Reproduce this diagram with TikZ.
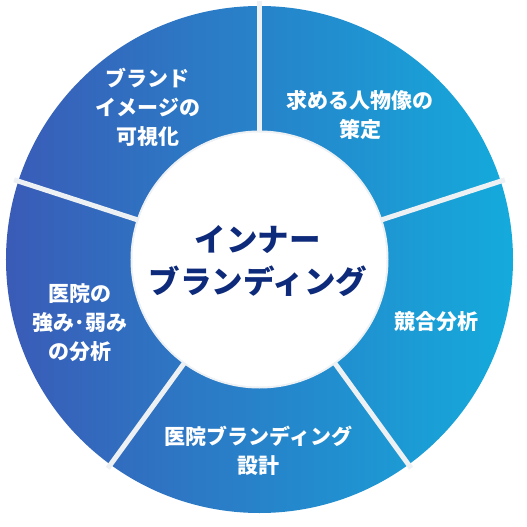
\documentclass[tikz,border=0pt]{standalone}
\usepackage{fontspec}
\setmainfont{Noto Sans CJK JP}
\definecolor{ringleft}{HTML}{3A5BB7}
\definecolor{ringright}{HTML}{14ABDC}
\definecolor{gapcol}{HTML}{EEF1F4}
\definecolor{navy}{HTML}{0E2A7A}
\tikzset{
  seglabel/.style={text=white, font=\fontsize{21}{29}\selectfont\bfseries, align=center, inner sep=0pt},
  centrelabel/.style={text=navy, font=\fontsize{31.5}{42}\selectfont\bfseries, align=center, inner sep=0pt},
  gapline/.style={draw=gapcol, line width=5pt}
}
\begin{document}
\begin{tikzpicture}[x=1pt,y=1pt]
\useasboundingbox (-259.5,-267.5) rectangle (267.5,259.5);
\fill[white] (-259.5,-267.5) rectangle (267.5,259.5);
\coordinate (C) at (0,0);
\shade[left color=ringleft, right color=ringright] (C) circle (253.5);
\foreach \a in {90,18,-54,-126,162}{
  \draw[gapline] (C) -- (\a:258);
}
\fill[gapcol] (C) circle (129);
\fill[white] (C) circle (127);
\node[seglabel] (tl) at (-111.5,152.5) {ブランド\\イメージの\\可視化};
\node[seglabel] (tr) at (100.5,144.5) {求める人物像の\\策定};
\node[seglabel] (r) at (176.5,-62.5) {競合分析};
\node[seglabel] (b) at (-1,-191.5) {医院ブランディング\\設計};
\node[seglabel] (l) at (-179.5,-63) {医院の\\強み･弱み\\の分析};
\node[centrelabel] (c) at (-1.5,-1.5) {インナー\\ブランディング};
\end{tikzpicture}
\end{document}
